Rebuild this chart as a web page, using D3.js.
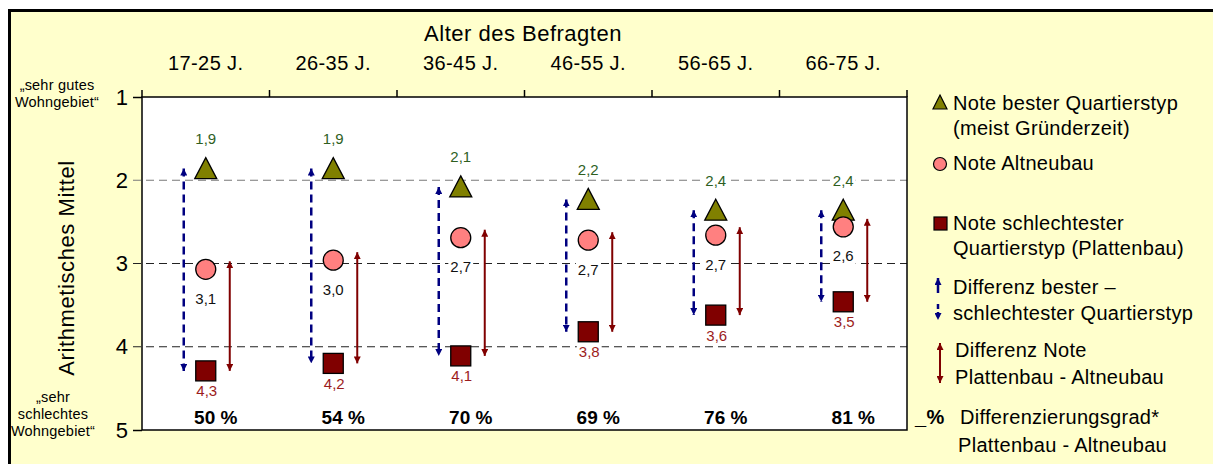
<html>
<head>
<meta charset="utf-8">
<style>
  body { margin: 0; background: #ffffff; }
  svg { display: block; font-family: Arial, "Liberation Sans", Helvetica, sans-serif; }
</style>
<script src="https://cdn.jsdelivr.net/npm/d3@7"></script>
</head>
<body>
<svg id="chart"></svg>
<script>
// values (school grades, 1 = very good, 5 = very bad)
let ageGroups = ["17-25 J.", "26-35 J.", "36-45 J.", "46-55 J.", "56-65 J.", "66-75 J."]
let bestType = [1.86, 1.86, 2.08, 2.23, 2.36, 2.36]     // Gründerzeit
let altneubau = [3.07, 2.96, 2.69, 2.72, 2.66, 2.56]
let plattenbau = [4.29, 4.20, 4.11, 3.82, 3.62, 3.46]
let diffDegree = [50, 54, 70, 69, 76, 81]
let yTicks = [1, 2, 3, 4, 5]
let gridValues = [2, 3, 4]

let width = 1213, height = 464
let plot = {left: 142, right: 907, top: 97, bottom: 430}

let svg = d3.select("#chart").attr("width", width).attr("height", height)

let fmt = d3.formatLocale({decimal: ",", thousands: ".", grouping: [3], currency: ["", " €"]}).format(".1f")

let x = d3.scaleBand().domain(ageGroups).range([plot.left, plot.right])
let y = d3.scaleLinear().domain([1, 5]).range([plot.top, plot.bottom])
let cx = d => x(d) + x.bandwidth() / 2

// background + frame
svg.append("rect").attr("x", 9).attr("y", 10).attr("width", width - 9).attr("height", height - 10).attr("fill", "#ffffcc")
svg.append("line").attr("x1", 9).attr("x2", width).attr("y1", 10.5).attr("y2", 10.5).attr("stroke", "#000").attr("stroke-width", 3)
svg.append("line").attr("x1", 9.5).attr("x2", 9.5).attr("y1", 9).attr("y2", height).attr("stroke", "#000").attr("stroke-width", 3)

svg.append("rect")
  .attr("x", plot.left).attr("y", plot.top)
  .attr("width", plot.right - plot.left).attr("height", plot.bottom - plot.top)
  .attr("fill", "#fff")

// dashed grid lines (they also act as the left ticks)
svg.append("g").selectAll("line").data(gridValues).enter().append("line")
  .attr("x1", plot.left - 9).attr("x2", plot.right)
  .attr("y1", d => y(d)).attr("y2", d => y(d))
  .attr("stroke", d => d == 2 ? "#7a7a7a" : "#222")
  .attr("stroke-width", 1.2)
  .attr("stroke-dasharray", "8,5")

// y axis
let yAxis = svg.append("g")
  .attr("transform", `translate(${plot.left},0)`)
  .call(d3.axisLeft(y).tickValues(yTicks).tickFormat(d3.format("d")).tickSize(9).tickPadding(5))
yAxis.select(".domain").remove()
yAxis.selectAll(".tick line").attr("stroke", d => (d == 1 || d == 5) ? "#000" : "none").attr("stroke-width", 1.5)
yAxis.selectAll("text").attr("font-size", 22).attr("fill", "#000").attr("font-family", null)

// top axis with ticks on the band edges
let xAxis = svg.append("g")
  .attr("transform", `translate(0,${plot.top})`)
  .call(d3.axisTop(x).tickSize(0).tickPadding(27))
xAxis.select(".domain").remove()
xAxis.selectAll("text").attr("font-size", 20).attr("letter-spacing", 0.4).attr("fill", "#000").attr("font-family", null)

let edges = ageGroups.map(d => x(d)).concat([plot.right])
svg.append("g").selectAll("line").data(edges).enter().append("line")
  .attr("x1", d => d).attr("x2", d => d)
  .attr("y1", plot.top - 7).attr("y2", plot.top)
  .attr("stroke", "#000").attr("stroke-width", 1.5)

// plot border
svg.append("rect")
  .attr("x", plot.left).attr("y", plot.top)
  .attr("width", plot.right - plot.left).attr("height", plot.bottom - plot.top)
  .attr("fill", "none").attr("stroke", "#000").attr("stroke-width", 1.5)

// axis titles
svg.append("text").attr("x", 523).attr("y", 33).attr("text-anchor", "middle").attr("dominant-baseline", "central")
  .attr("font-size", 22).attr("letter-spacing", 0.5).text("Alter des Befragten")
svg.append("text").attr("transform", "translate(66,268) rotate(-90)")
  .attr("text-anchor", "middle").attr("dominant-baseline", "central")
  .attr("font-size", 22).attr("letter-spacing", 0.6).text("Arithmetisches Mittel")

function multiline(lines, px, ys, size) {
  lines.forEach((t, i) => {
    svg.append("text").attr("x", px).attr("y", ys[i]).attr("text-anchor", "middle")
      .attr("dominant-baseline", "central").attr("font-size", size).attr("letter-spacing", 0.2).text(t)
  })
}
multiline(["„sehr gutes", "Wohngebiet“"], 57, [85, 102], 14.5)
multiline(["„sehr", "schlechtes", "Wohngebiet“"], 53, [397, 414, 431], 14.5)

// arrow markers
let defs = svg.append("defs")
function marker(id, color) {
  defs.append("marker").attr("id", id)
    .attr("viewBox", "0 0 10 10").attr("refX", 10).attr("refY", 5)
    .attr("markerWidth", 7).attr("markerHeight", 7)
    .attr("markerUnits", "userSpaceOnUse")
    .attr("orient", "auto-start-reverse")
    .append("path").attr("d", "M0,0 L10,5 L0,10 z").attr("fill", color)
}
marker("headBlue", "#000080")
marker("headRed", "#800000")

let rows = ageGroups.map((g, i) => ({g, best: bestType[i], alt: altneubau[i], pl: plattenbau[i], pct: diffDegree[i]}))

// blue dashed arrows: best vs worst type
svg.append("g").selectAll("line").data(rows).enter().append("line")
  .attr("x1", d => cx(d.g) - 22).attr("x2", d => cx(d.g) - 22)
  .attr("y1", d => y(d.best)).attr("y2", d => y(d.pl))
  .attr("stroke", "#000080").attr("stroke-width", 2.5).attr("stroke-dasharray", "8,5")
  .attr("marker-start", "url(#headBlue)").attr("marker-end", "url(#headBlue)")

// red solid arrows: Plattenbau vs Altneubau
svg.append("g").selectAll("line").data(rows).enter().append("line")
  .attr("x1", d => cx(d.g) + 24).attr("x2", d => cx(d.g) + 24)
  .attr("y1", d => y(d.alt) - 8).attr("y2", d => y(d.pl))
  .attr("stroke", "#800000").attr("stroke-width", 2)
  .attr("marker-start", "url(#headRed)").attr("marker-end", "url(#headRed)")

// markers
svg.append("g").selectAll("path").data(rows).enter().append("path")
  .attr("d", "M0,-11 L11,10 L-11,10 Z")
  .attr("transform", d => `translate(${cx(d.g)},${y(d.best)})`)
  .attr("fill", "#808000").attr("stroke", "#000").attr("stroke-width", 1.3)

svg.append("g").selectAll("circle").data(rows).enter().append("circle")
  .attr("cx", d => cx(d.g)).attr("cy", d => y(d.alt)).attr("r", 10)
  .attr("fill", "#ff8080").attr("stroke", "#000").attr("stroke-width", 1.3)

svg.append("g").selectAll("rect").data(rows).enter().append("rect")
  .attr("x", d => cx(d.g) - 10).attr("y", d => y(d.pl) - 10)
  .attr("width", 20).attr("height", 20)
  .attr("fill", "#800000").attr("stroke", "#000").attr("stroke-width", 1.3)

// value labels with white boxes
function valueLabel(px, py, txt, color) {
  let g = svg.append("g")
  let t = g.append("text").attr("x", px).attr("y", py).attr("text-anchor", "middle")
    .attr("dominant-baseline", "central").attr("font-size", 15).attr("fill", color).text(txt)
  let b = t.node().getBBox()
  g.insert("rect", "text").attr("x", b.x - 2).attr("y", b.y).attr("width", b.width + 4).attr("height", b.height)
    .attr("fill", "#fff")
}
rows.forEach(d => {
  valueLabel(cx(d.g), y(d.best) - 30, fmt(d.best), "#2f5f1f")
  valueLabel(cx(d.g), y(d.alt) + 29, fmt(d.alt), "#111")
  valueLabel(cx(d.g) + 1, y(d.pl) + 20, fmt(d.pl), "#9c1c1c")
})

// Differenzierungsgrad
svg.append("g").selectAll("text").data(rows).enter().append("text")
  .attr("x", d => cx(d.g) + 10).attr("y", 417)
  .attr("text-anchor", "middle").attr("dominant-baseline", "central")
  .attr("font-size", 19).attr("font-weight", "bold")
  .text(d => d.pct + " %")

// legend
let lg = svg.append("g").attr("letter-spacing", 0.3)
let lx = 953
function ltext(t, ty, tx, size) {
  return lg.append("text").attr("x", tx || lx).attr("y", ty).attr("dominant-baseline", "central")
    .attr("font-size", size || 20).text(t)
}
lg.append("path").attr("d", "M0,-7 L7,7 L-7,7 Z").attr("transform", "translate(940,102)")
  .attr("fill", "#808000").attr("stroke", "#000").attr("stroke-width", 1.2)
ltext("Note bester Quartierstyp", 103)
ltext("(meist Gründerzeit)", 128)

lg.append("circle").attr("cx", 940).attr("cy", 164).attr("r", 6.5)
  .attr("fill", "#ff8080").attr("stroke", "#000").attr("stroke-width", 1.2)
ltext("Note Altneubau", 163)

lg.append("rect").attr("x", 934).attr("y", 217).attr("width", 13).attr("height", 13)
  .attr("fill", "#800000").attr("stroke", "#000").attr("stroke-width", 1.2)
ltext("Note schlechtester", 223)
ltext("Quartierstyp (Plattenbau)", 248)

lg.append("line").attr("x1", 938).attr("x2", 938).attr("y1", 293).attr("y2", 278)
  .attr("stroke", "#000080").attr("stroke-width", 2.5).attr("marker-end", "url(#headBlue)")
lg.append("line").attr("x1", 938).attr("x2", 938).attr("y1", 304).attr("y2", 320)
  .attr("stroke", "#000080").attr("stroke-width", 2.5).attr("stroke-dasharray", "5,3").attr("marker-end", "url(#headBlue)")
ltext("Differenz bester –", 287)
ltext("schlechtester Quartierstyp", 313)

lg.append("line").attr("x1", 940).attr("x2", 940).attr("y1", 343).attr("y2", 383)
  .attr("stroke", "#800000").attr("stroke-width", 2)
  .attr("marker-start", "url(#headRed)").attr("marker-end", "url(#headRed)")
ltext("Differenz Note", 350, 955)
ltext("Plattenbau - Altneubau", 377, 955)

ltext("_%", 417, 915, 20).attr("font-weight", "bold")
ltext("Differenzierungsgrad*", 417, 960)
ltext("Plattenbau - Altneubau", 445, 958)
</script>
</body>
</html>
